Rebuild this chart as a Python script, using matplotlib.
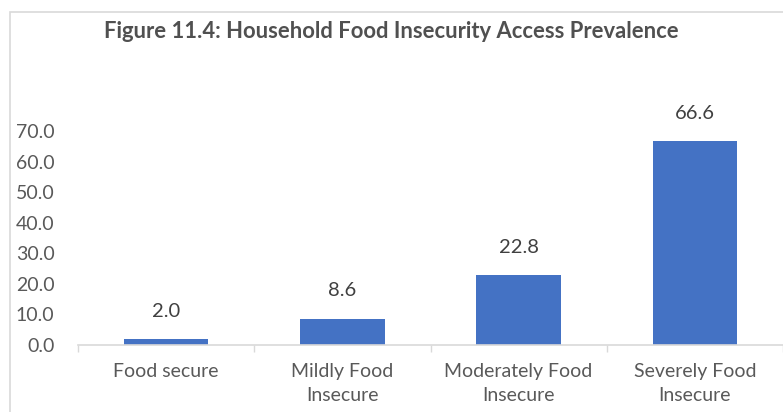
import matplotlib
matplotlib.use("Agg")
import matplotlib.pyplot as plt
from matplotlib.patches import Rectangle

categories = ["Food secure", "Mildly Food\nInsecure", "Moderately Food\nInsecure", "Severely Food\nInsecure"]
prevalence = [2.0, 8.6, 22.8, 66.6]
yticks = [0, 10, 20, 30, 40, 50, 60, 70]
title = "Figure 11.4: Household Food Insecurity Access Prevalence"

bar_color = "#4472C4"
text_gray = "#595959"
plt.rcParams["font.family"] = ["Lato", "DejaVu Sans"]

fig = plt.figure(figsize=(7.83, 4.12), dpi=100)
W, H = 783, 412

# chart area border (only the top and left edges are on the canvas)
fig.patches.append(Rectangle((10 / W, -0.1), 1.2, (H - 12) / H + 0.1,
                             transform=fig.transFigure, fill=False,
                             edgecolor="#d9d9d9", linewidth=1.2))

ax = fig.add_axes([78 / W, 67 / H, 1 - 78 / W, (80 * 3.057) / H])
x = range(len(categories))
ax.bar(x, prevalence, width=0.48, color=bar_color, zorder=2)

for i, v in enumerate(prevalence):
    ax.annotate(f"{v:.1f}", (i, v), xytext=(0, 20), textcoords="offset points",
                ha="center", va="center", fontsize=14.5, color="#404040")

ax.set_xlim(-0.5, 3.5 - 15 / 180)
ax.set_ylim(0, 80)
ax.set_yticks(yticks)
ax.set_yticklabels([f"{t:.1f}" for t in yticks], fontsize=14, color=text_gray)
ax.tick_params(axis="y", length=0, pad=17)

ax.set_xticks(list(x))
ax.set_xticklabels(categories, fontsize=14, color=text_gray, linespacing=1.5)
ax.tick_params(axis="x", which="major", length=0, pad=13)
ax.set_xticks([-0.5, 0.5, 1.5, 2.5, 3.5], minor=True)
ax.tick_params(axis="x", which="minor", length=5, color="#d9d9d9", width=1)

for s in ["top", "right", "left"]:
    ax.spines[s].set_visible(False)
ax.spines["bottom"].set_color("#d9d9d9")
ax.spines["bottom"].set_linewidth(1.2)

fig.text(391 / W, 1 - 32 / H, title, ha="center", va="center",
         fontsize=15.8, fontweight="bold", color="#505050")

fig.savefig("out.png", dpi=100)
